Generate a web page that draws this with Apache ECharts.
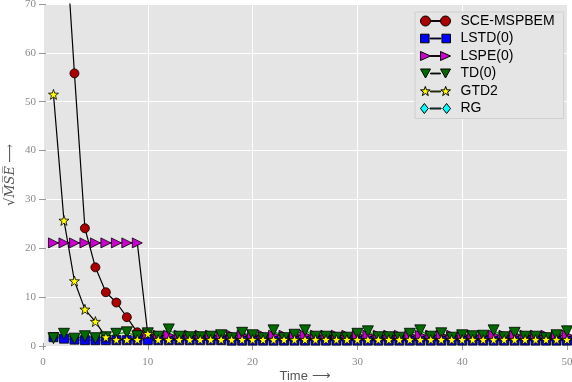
<!DOCTYPE html>
<html><head><meta charset="utf-8">
<script src="https://cdn.jsdelivr.net/npm/echarts@6/dist/echarts.min.js"></script>
<style>html,body{margin:0;padding:0;background:#fff}#c{width:572px;height:382px}</style>
</head><body><div id="c"></div>
<script>
const times = [1,2,3,4,5,6,7,8,9,10,11,12,13,14,15,16,17,18,19,20,21,22,23,24,25,26,27,28,29,30,31,32,33,34,35,36,37,38,39,40,41,42,43,44,45,46,47,48,49,50];
const seriesNames = ['SCE-MSPBEM','LSTD(0)','LSPE(0)','TD(0)','GTD2','RG'];
const sceMspbem = [140,89,55.8,24.1,16.1,11.0,8.9,5.9,2.8,1.5,1.4,1.4,1.4,1.4,1.4,1.4,1.4,1.4,1.4,1.4,1.4,1.4,1.4,1.4,1.4,1.4,1.4,1.4,1.4,1.4,1.4,1.4,1.4,1.4,1.4,1.4,1.4,1.4,1.4,1.4,1.4,1.4,1.4,1.4,1.4,1.4,1.4,1.4,1.4,1.4];
const lstd0 = [1.8,1.5,1.3,1.2,1.2,1.2,1.2,1.2,1.2,1.2,1.2,1.2,1.2,1.2,1.2,1.2,1.2,1.1,1.1,1.1,1.1,1.1,1.1,1.1,1.1,1.1,1.1,1.1,1.1,1.1,1.1,1.1,1.1,1.1,1.1,1.1,1.1,1.1,1.1,1.1,1.1,1.1,1.1,1.1,1.1,1.1,1.1,1.1,1.1,1.1];
const lspe0 = [21.1,21.1,21.1,21.1,21.1,21.1,21.1,21.1,21.1,2.4,2.2,2.2,2.2,2.2,2.2,2.2,2.2,2.2,2.2,2.2,2.2,2.2,2.2,2.2,2.2,2.2,2.2,2.2,2.2,2.2,2.2,2.2,2.2,2.2,2.2,2.2,2.2,2.2,2.2,2.2,2.2,2.2,2.2,2.2,2.2,2.2,2.2,2.2,2.2,2.2];
const td0 = [1.6,2.5,1.5,2.0,1.6,1.8,2.5,2.8,2.0,2.6,1.9,3.4,1.9,1.8,1.8,1.9,2.2,1.6,2.7,2.2,1.6,3.2,1.6,2.3,3.2,1.9,1.9,1.7,1.7,2.5,3.0,1.8,1.8,1.7,2.5,3.2,1.9,2.6,1.7,2.2,2.0,2.1,3.2,1.8,2.7,1.9,1.9,1.6,2.2,3.0];
const gtd2 = [51.5,25.7,13.3,7.5,5.0,1.8,1.3,1.3,1.3,2.5,1.3,1.3,1.3,1.3,1.3,1.3,1.3,1.3,1.3,1.3,1.3,1.3,1.3,1.3,1.3,1.3,1.3,1.3,1.3,1.3,1.3,1.3,1.3,1.3,1.3,1.3,1.3,1.3,1.3,1.3,1.3,1.3,1.3,1.3,1.3,1.3,1.3,1.3,1.3,1.3];
const rg = [null,null,null,null,null,null,null,null,null,null,null,null,null,null,null,null,null,null,null,null,null,null,null,null,null,null,null,null,null,null,null,null,null,null,null,null,null,null,null,null,null,null,null,null,null,null,null,null,null,null];
const xTicks = [0,10,20,30,40,50];
const yTicks = [0,10,20,30,40,50,60,70];

const STAR = 'M10,0 L12.35,6.76 L19.51,6.91 L13.80,11.24 L15.88,18.09 L10,14 L4.12,18.09 L6.20,11.24 L0.49,6.91 L7.65,6.76 Z';
const STAR2 = 'M50,0 L52.35,6.76 L59.51,6.91 L53.80,11.24 L55.88,18.09 L50,14 L44.12,18.09 L46.20,11.24 L40.49,6.91 L47.65,6.76 Z';
const LINK = 'M20,9.2 L40,9.2 L40,10.8 L20,10.8 Z';
const icons = {
  circle: 'path://M0,10 A10,10 0 1 1 20,10 A10,10 0 1 1 0,10 Z ' + LINK + ' M40,10 A10,10 0 1 1 60,10 A10,10 0 1 1 40,10 Z',
  square: 'path://M2,2 L18,2 L18,18 L2,18 Z ' + LINK + ' M42,2 L58,2 L58,18 L42,18 Z',
  right: 'path://M0,1 L20,10 L0,19 Z ' + LINK + ' M40,1 L60,10 L40,19 Z',
  down: 'path://M0,1 L20,1 L10,19 Z ' + LINK + ' M40,1 L60,1 L50,19 Z',
  star: 'path://' + STAR + ' ' + LINK + ' ' + STAR2,
  diamond: 'path://M10,1 L17,10 L10,19 L3,10 Z ' + LINK + ' M50,1 L57,10 L50,19 L43,10 Z'
};

function pairs(v){ return times.map((t,i)=>[t, v[i]]); }

const chart = echarts.init(document.getElementById('c'), null, {renderer:'canvas'});
const tickFont = {fontFamily:'Liberation Serif', fontSize:11, color:'#8a8a8a'};
function mk(name, data, symbol, size, rotate, color, lineColor){
  return {
    name, type:'line', data: pairs(data), symbol, symbolSize:size, symbolRotate:rotate,
    showSymbol:true, showAllSymbol:true, connectNulls:false, animation:false,
    lineStyle:{color:lineColor, width:1.2},
    itemStyle:{color, borderColor:'#000', borderWidth:0.8},
    emphasis:{disabled:true}
  };
}
const option = {
  animation:false,
  backgroundColor:'#ffffff',
  grid:{left:43, right:5, top:4, bottom:36, show:true, backgroundColor:'#e5e5e5', borderWidth:0, outerBoundsMode:'none', containLabel:false},
  legend:{
    orient:'vertical', left:415, top:12,
    data: seriesNames.map((n,i)=>({name:n, icon:[icons.circle,icons.square,icons.right,icons.down,icons.star,icons.diamond][i]})),
    itemWidth:30, itemHeight:10, itemGap:3.5,
    padding:[2,9,3,5],
    backgroundColor:'#e5e5e5', borderColor:'#cfcfcf', borderWidth:1,
    itemStyle:{borderColor:'#000', borderWidth:1},
    textStyle:{fontFamily:'Liberation Sans', fontSize:14, color:'#000', lineHeight:14, padding:[0,0,0,5]}
  },
  xAxis:[{
    type:'value', min:xTicks[0], max:xTicks[xTicks.length-1], interval:10,
    name:'Time ⟶', nameLocation:'middle', nameGap:24, nameMoveOverlap:false,
    nameTextStyle:{fontFamily:'Liberation Sans', fontSize:13, color:'#555'},
    axisLine:{show:false}, axisTick:{show:true, length:4, lineStyle:{color:'#999'}},
    axisLabel:Object.assign({margin:11}, tickFont),
    splitLine:{show:true, lineStyle:{color:'#ffffff', width:1}}
  },{
    type:'value', position:'top', min:xTicks[0], max:xTicks[xTicks.length-1], interval:10,
    axisLine:{show:false}, axisTick:{show:true, length:3, lineStyle:{color:'#999'}},
    axisLabel:{show:false}, splitLine:{show:false}
  }],
  yAxis:[{
    type:'value', min:yTicks[0], max:yTicks[yTicks.length-1], interval:10,
    name:'{r|√}{m|M̅S̅E̅} {a|⟶}', nameLocation:'middle', nameGap:26, nameMoveOverlap:false,
    nameTextStyle:{color:'#555', rich:{
      r:{fontFamily:'DejaVu Serif', fontSize:13, color:'#555'},
      m:{fontFamily:'DejaVu Serif', fontStyle:'italic', fontSize:13, color:'#555'},
      a:{fontFamily:'DejaVu Serif', fontSize:13, color:'#555'}
    }},
    axisLine:{show:false}, axisTick:{show:true, length:4, lineStyle:{color:'#999'}},
    axisLabel:Object.assign({margin:7}, tickFont),
    splitLine:{show:true, lineStyle:{color:'#ffffff', width:1}}
  },{
    type:'value', position:'right', min:yTicks[0], max:yTicks[yTicks.length-1], interval:10,
    axisLine:{show:false}, axisTick:{show:true, length:3, lineStyle:{color:'#999'}},
    axisLabel:{show:false}, splitLine:{show:false}
  }],
  series:[
    mk(seriesNames[0], sceMspbem, 'circle', 9, 0, '#aa0000', '#000'),
    mk(seriesNames[1], lstd0, 'rect', 9, 0, '#0000ff', '#4444ff'),
    mk(seriesNames[2], lspe0, 'triangle', 10, -90, '#cc00cc', '#000'),
    mk(seriesNames[3], td0, 'triangle', 11, 180, '#006a00', '#00a000'),
    mk(seriesNames[4], gtd2, 'path://' + STAR, 10, 0, '#ffff00', '#000'),
    mk(seriesNames[5], rg, 'diamond', 9, 0, '#00ffff', '#000')
  ]
};
chart.setOption(option);
</script></body></html>
